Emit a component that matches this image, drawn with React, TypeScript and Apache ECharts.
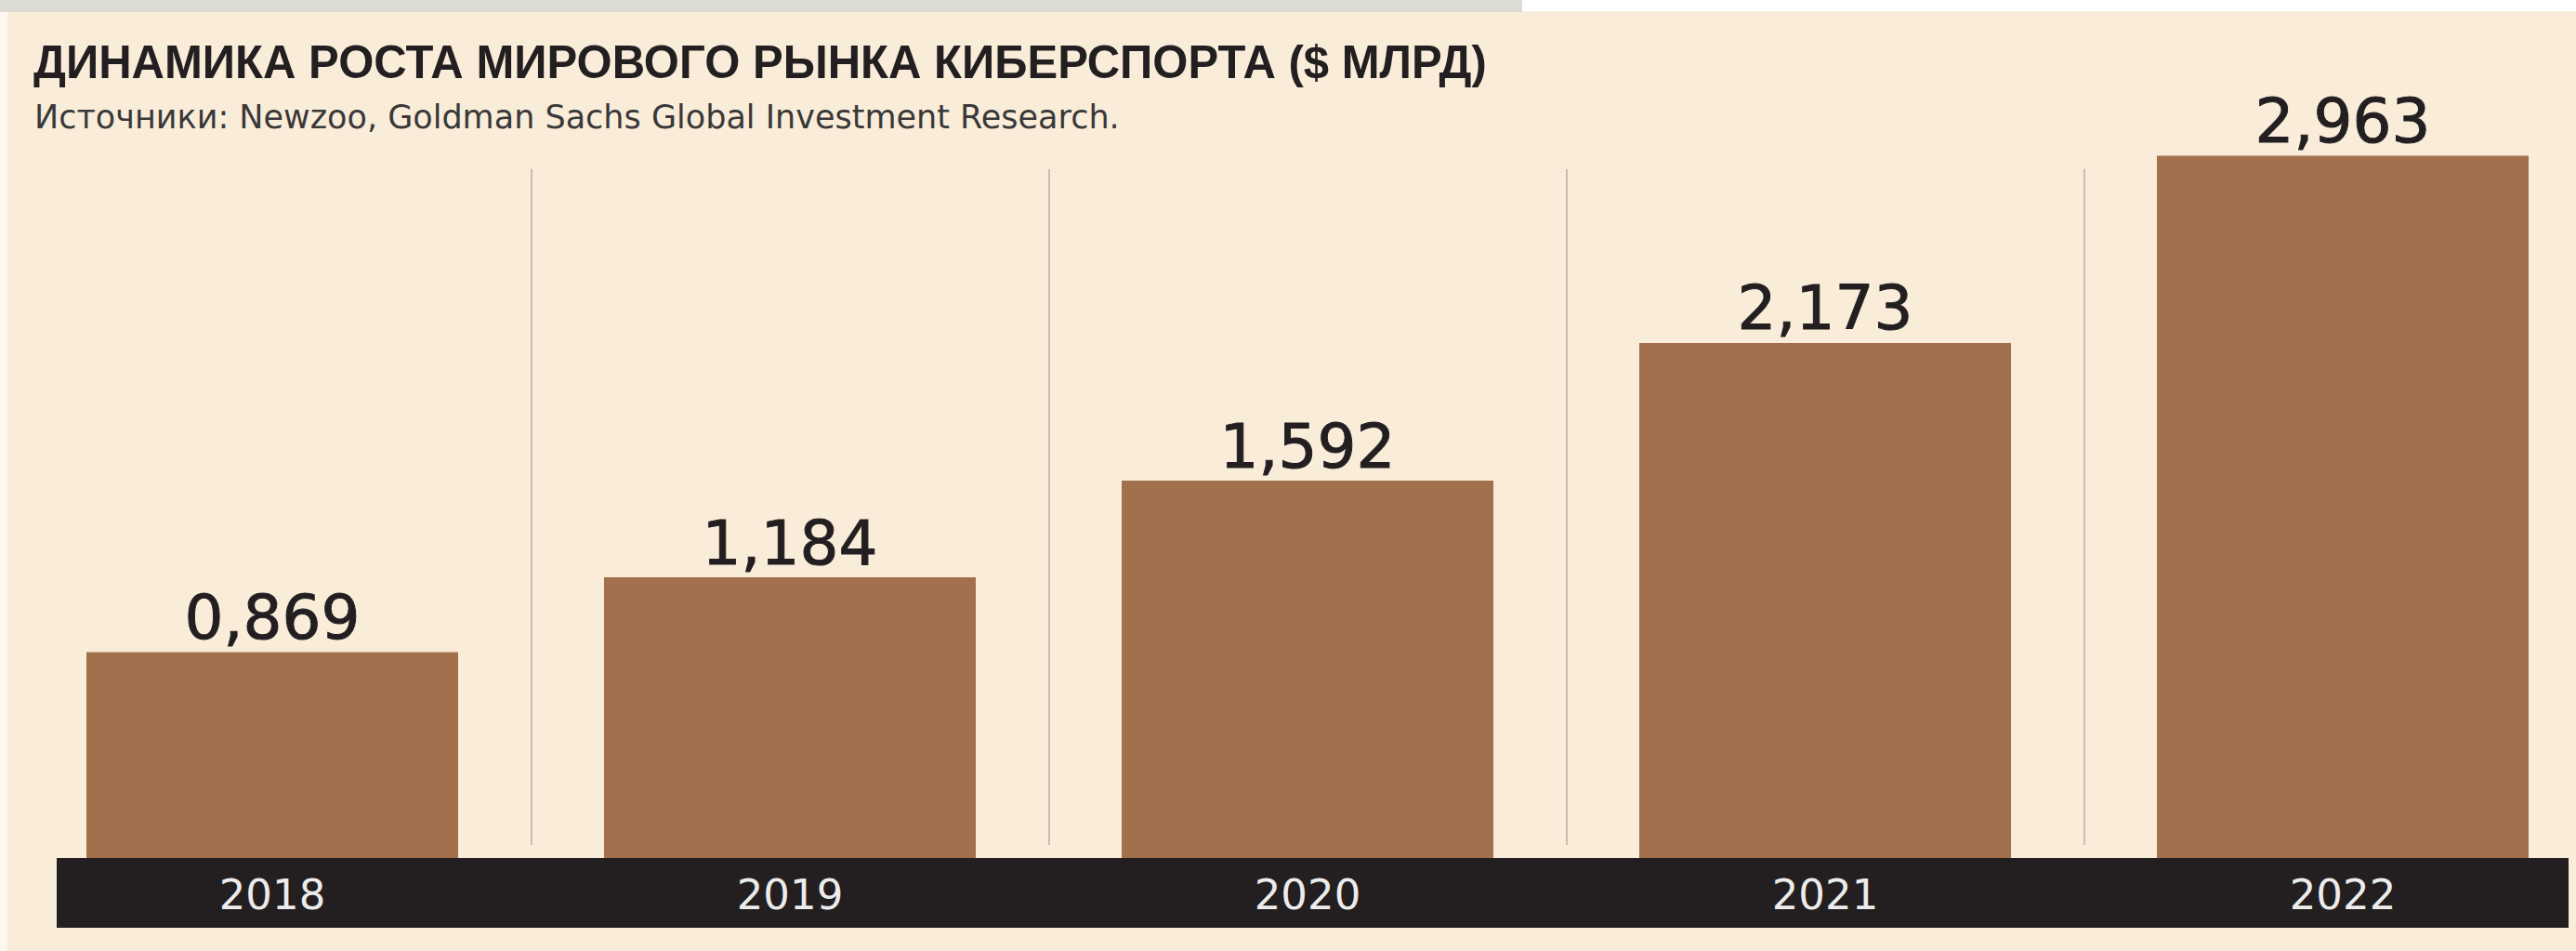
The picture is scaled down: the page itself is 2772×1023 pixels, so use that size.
import React, { useEffect, useRef } from "react";
import * as echarts from "echarts";

const categories = ["2018", "2019", "2020", "2021", "2022"];
const values = [0.869, 1.184, 1.592, 2.173, 2.963];
const titleText = "ДИНАМИКА РОСТА МИРОВОГО РЫНКА КИБЕРСПОРТА ($ МЛРД)";
const subtitleText = "Источники: Newzoo, Goldman Sachs Global Investment Research.";

const W = 2772;
const CW = 2800;
const H = 1023;
const gridLeft = 14.5;
const gridWidth = 2785;
const band = gridWidth / categories.length;

export default function App() {
  const ref = useRef<HTMLDivElement>(null);
  useEffect(() => {
    document.body.style.margin = "0";
    document.body.style.overflow = "hidden";
    document.documentElement.style.overflow = "hidden";
    const chart = echarts.init(ref.current!, null, { renderer: "svg" });
    chart.setOption({
      animation: false,
      backgroundColor: "#f9edda",
      grid: [
        { left: gridLeft, width: gridWidth, top: 158, height: 765, outerBoundsMode: "none" },
        { left: gridLeft + band, width: band * 3, top: 182, height: 727, outerBoundsMode: "none" },
      ],
      xAxis: [
        {
          type: "category",
          gridIndex: 0,
          data: categories,
          z: 10,
          axisLine: { show: false },
          axisTick: { show: false },
          splitLine: { show: false },
          axisLabel: {
            color: "#ececec",
            fontSize: 45,
            fontFamily: "DejaVu Sans",
            margin: 17,
          },
        },
        {
          type: "value",
          gridIndex: 1,
          min: 1,
          max: 4,
          interval: 1,
          axisLine: { show: false },
          axisTick: { show: false },
          axisLabel: { show: false },
          splitLine: { show: true, lineStyle: { color: "#c6beb3", width: 2 } },
        },
      ],
      yAxis: [
        { type: "value", gridIndex: 0, min: 0, max: 3, show: false },
        { type: "value", gridIndex: 1, min: 0, max: 1, show: false },
      ],
      series: [
        {
          type: "bar",
          xAxisIndex: 0,
          yAxisIndex: 0,
          data: values,
          barWidth: 400,
          z: 2,
          itemStyle: { color: "#a3704d" },
          label: {
            show: true,
            position: "top",
            distance: 4,
            fontFamily: "DejaVu Sans",
            fontSize: 66,
            color: "#231f20",
            textBorderColor: "#231f20",
            textBorderWidth: 1,
            formatter: (p: any) => p.value.toFixed(3).replace(".", ","),
          },
        },
      ],
      graphic: [
        { type: "rect", z: 1, shape: { x: 0, y: 0, width: 1638, height: 13 }, style: { fill: "#dcdcd5" } },
        { type: "rect", z: 1, shape: { x: 1638, y: 0, width: CW - 1638, height: 12 }, style: { fill: "#ffffff" } },
        { type: "rect", z: 1, shape: { x: 0, y: 13, width: 8, height: H - 13 }, style: { fill: "#fdf8ef" } },
        { type: "rect", z: 3, shape: { x: 61, y: 923, width: 2703, height: 75 }, style: { fill: "#231f20" } },
        {
          type: "text",
          z: 10,
          x: 36,
          y: 66,
          scaleX: 0.981,
          style: {
            text: titleText,
            fontFamily: "Liberation Sans",
            fontWeight: "bold",
            fontSize: 50,
            fill: "#231f20",
            align: "left",
            verticalAlign: "middle",
          },
        },
        {
          type: "text",
          z: 10,
          x: 37,
          y: 126,
          style: {
            text: subtitleText,
            fontFamily: "DejaVu Sans",
            fontSize: 35,
            fill: "#3a3838",
            align: "left",
            verticalAlign: "middle",
          },
        },
      ],
    });
    return () => chart.dispose();
  }, []);
  return <div ref={ref} style={{ width: CW, height: H }} />;
}
